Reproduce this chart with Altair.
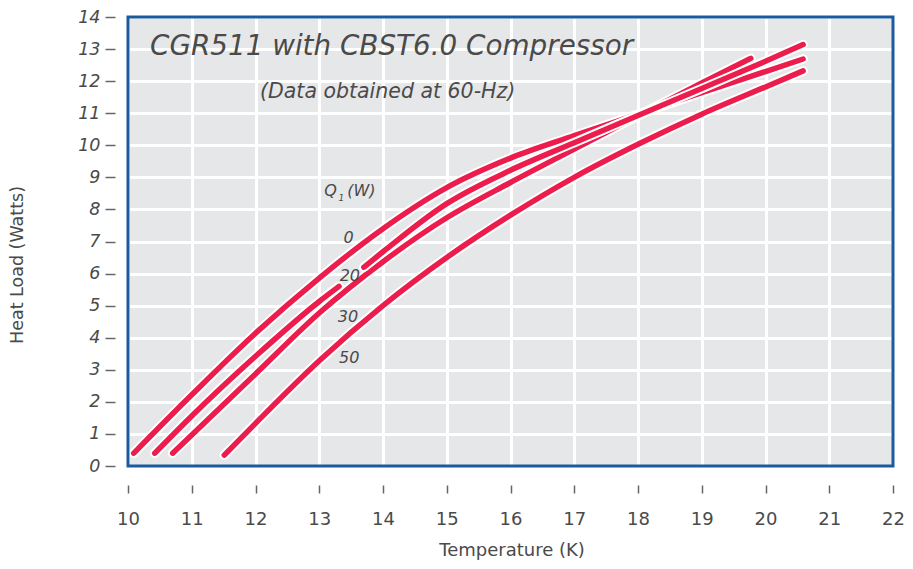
import altair as alt
import pandas as pd

# ---- data ----
T_0 = [10.09, 11.0, 12.0, 13.0, 14.0, 15.0, 16.0, 17.0, 18.0, 19.0, 20.0, 20.59]
Q_0 = [0.40, 2.22, 4.14, 5.86, 7.40, 8.68, 9.60, 10.30, 10.97, 11.64, 12.30, 12.69]

T_20a = [10.42, 11.0, 12.0, 13.0, 13.31]
Q_20a = [0.40, 1.56, 3.42, 5.13, 5.60]
T_20b = [13.70, 14.0, 15.0, 16.0, 17.0, 18.0, 19.0, 20.0, 20.59]
Q_20b = [6.20, 6.68, 8.18, 9.22, 10.08, 10.93, 11.77, 12.62, 13.14]

T_30 = [10.70, 11.0, 12.0, 13.0, 14.0, 15.0, 16.0, 17.0, 18.0, 19.0, 19.77]
Q_30 = [0.40, 0.97, 2.87, 4.77, 6.37, 7.74, 8.84, 9.88, 10.92, 11.94, 12.71]

T_50 = [11.51, 12.0, 13.0, 14.0, 15.0, 16.0, 17.0, 18.0, 19.0, 20.0, 20.59]
Q_50 = [0.34, 1.33, 3.28, 5.00, 6.50, 7.82, 9.00, 10.03, 10.97, 11.82, 12.32]

label_text = ["0", "20", "30", "50"]
label_T = [13.46, 13.48, 13.45, 13.47]
label_Q = [7.12, 5.91, 4.64, 3.36]

x_ticks = list(range(10, 23))
y_ticks = list(range(0, 15))

title_text = "CGR511 with CBST6.0 Compressor"
subtitle_text = "(Data obtained at 60-Hz)"
x_title = "Temperature (K)"
y_title = "Heat Load (Watts)"

RED = "#ec1c4c"
BLUE = "#1c5a9e"
TXT = "#4a4a4a"
FONT = "DejaVu Sans"

W, H = 765, 449

rows = []
def add(series, seg, ts, qs):
    for i, (t, q) in enumerate(zip(ts, qs)):
        rows.append({"series": series, "seg": seg, "T": t, "Q": q, "i": i})

add("0", "0", T_0, Q_0)
add("20", "20a", T_20a, Q_20a)
add("20", "20b", T_20b, Q_20b)
add("30", "30", T_30, Q_30)
add("50", "50", T_50, Q_50)
df = pd.DataFrame(rows)

xs = alt.Scale(domain=[10, 22], nice=False, zero=False)
ys = alt.Scale(domain=[0, 14], nice=False, zero=False)

x_axis = alt.Axis(values=x_ticks, format="d", title=None, offset=19, tickSize=8,
                  labelPadding=17, labelFontSize=18, labelColor=TXT,
                  labelFont=FONT, domain=False, tickColor="#666",
                  tickWidth=1.5, gridColor="white", gridWidth=3,
                  gridOpacity=1, labelFlush=False, labelOverlap=False)
y_axis = alt.Axis(values=y_ticks, format="d", title=None, offset=13, tickSize=10,
                  labelPadding=5, labelFontSize=17.5, labelColor=TXT,
                  labelFont=FONT, labelFontStyle="italic", domain=False,
                  tickColor="#666", tickWidth=1.5, gridColor="white",
                  gridWidth=3, gridOpacity=1, labelFlush=False, labelOverlap=False)

X = alt.X("T:Q", scale=xs, axis=x_axis)
Y = alt.Y("Q:Q", scale=ys, axis=y_axis)

base = alt.Chart(df)

layers = []
for s in ["50", "30", "0", "20"]:
    sub = base.transform_filter(alt.datum.series == s)
    halo = sub.mark_line(
        color="white", strokeWidth=9.5, strokeCap="round", interpolate="monotone"
    ).encode(x=X, y=Y, detail="seg:N", order="i:Q")
    red = sub.mark_line(
        color=RED, strokeWidth=5.5, strokeCap="round", interpolate="monotone"
    ).encode(x=X, y=Y, detail="seg:N", order="i:Q")
    layers += [halo, red]

frame = alt.Chart(pd.DataFrame({"k": [0]})).mark_rect(
    filled=False, stroke=BLUE, strokeWidth=3
).encode(x=alt.value(0), x2=alt.value(W), y=alt.value(0), y2=alt.value(H))

lab_df = pd.DataFrame({"t": label_text, "T": label_T, "Q": label_Q})
labels = alt.Chart(lab_df).mark_text(
    font=FONT, fontSize=16, fontStyle="italic", color=TXT, align="center", baseline="middle"
).encode(x=X, y=Y, text="t:N")

q_df = pd.DataFrame({"t": ["Q", "(W)"], "T": [13.08, 13.44], "Q": [8.56, 8.56]})
qlab = alt.Chart(q_df).mark_text(
    font=FONT, fontSize=16, fontStyle="italic", color=TXT, align="left", baseline="middle"
).encode(x=X, y=Y, text="t:N")
sub_df = pd.DataFrame({"t": ["1"], "T": [13.30], "Q": [8.36]})
qsub = alt.Chart(sub_df).mark_text(
    font=FONT, fontSize=9, fontStyle="italic", color=TXT, align="left", baseline="middle"
).encode(x=X, y=Y, text="t:N")

title = alt.Chart(pd.DataFrame({"t": [title_text]})).mark_text(
    font=FONT, fontSize=27.8, fontStyle="italic", color=TXT, align="left", baseline="middle"
).encode(x=alt.value(22), y=alt.value(30), text="t:N")
subtitle = alt.Chart(pd.DataFrame({"t": [subtitle_text]})).mark_text(
    font=FONT, fontSize=20.5, fontStyle="italic", color=TXT, align="left", baseline="middle"
).encode(x=alt.value(132), y=alt.value(75), text="t:N")

xtitle = alt.Chart(pd.DataFrame({"t": [x_title]})).mark_text(
    font=FONT, fontSize=18, color=TXT, align="center", baseline="middle"
).encode(x=alt.value(384), y=alt.value(534), text="t:N")
ytitle = alt.Chart(pd.DataFrame({"t": [y_title]})).mark_text(
    font=FONT, fontSize=17.5, color=TXT, align="center", baseline="middle", angle=270
).encode(x=alt.value(-110), y=alt.value(248), text="t:N")

chart = alt.layer(*layers, frame, labels, qlab, qsub, title, subtitle, xtitle, ytitle).properties(
    width=W, height=H,
    autosize=alt.AutoSizeParams(type="none"),
    padding={"left": 120, "top": 9, "right": 12, "bottom": 95},
).configure_view(
    fill="#e6e7e9", strokeWidth=0
)

chart.save("out.html", embed_options={"renderer": "svg", "actions": False})
